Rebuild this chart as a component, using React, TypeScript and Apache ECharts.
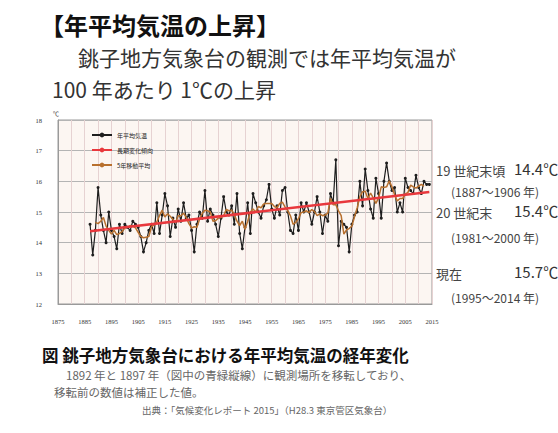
import React, { useEffect, useRef } from "react";
import * as echarts from "echarts";

const startYear = 1887;
const annualTemp = [
  14.6, 13.6, 14.4, 15.8, 14.9, 14.4, 14.0, 15.0, 14.4, 14.2,
  13.8, 14.6, 14.3, 14.6, 14.5, 14.4, 14.7, 14.6, 14.5, 14.2,
  13.7, 14.0, 14.4, 14.6, 14.3, 15.3, 14.3, 14.9, 15.6, 15.2,
  14.2, 14.8, 14.5, 15.1, 14.7, 15.3, 14.8, 14.9, 14.4, 13.7,
  14.6, 15.0, 14.8, 15.7, 14.7, 15.1, 14.9, 14.6, 14.2, 14.8,
  15.5, 15.0, 14.9, 15.2, 14.6, 15.6, 14.3, 13.8, 14.5, 15.3,
  14.3, 15.6, 15.3, 15.0, 14.8, 15.2, 15.4, 15.9, 15.1, 14.8,
  15.2, 14.9, 15.7, 15.8, 15.0, 14.4, 14.3, 14.9, 14.4, 15.3,
  15.0, 15.3, 15.0, 14.6, 15.0, 15.5, 15.0, 14.3, 14.9, 14.7,
  15.6, 15.3, 16.7, 13.9, 14.7, 14.6, 14.5, 13.7, 14.6, 14.9,
  15.0, 16.0, 15.2, 16.4, 15.7, 15.1, 14.8, 16.1, 15.6, 14.8,
  16.0, 16.6, 16.0, 15.7, 15.8, 15.0, 15.3, 15.0, 16.1, 15.8,
  15.7, 15.6, 16.2, 15.8, 15.6, 16.0, 15.9, 15.9,
];
const trendYears = [1887, 2014];
const trendTemp = [14.37, 15.65];
const seriesNames = ["年平均気温", "長期変化傾向", "5年移動平均"];

const font = "'Noto Sans CJK JP', sans-serif";

export default function App() {
  const ref = useRef<HTMLDivElement>(null);
  useEffect(() => {
    document.body.style.margin = "0";
    const chart = echarts.init(ref.current!, null, { renderer: "svg" });
    const annual = annualTemp.map((v, i) => [startYear + i, v]);
    const ma: number[][] = [];
    for (let i = 2; i < annualTemp.length - 2; i++) {
      let s = 0;
      for (let k = -2; k <= 2; k++) s += annualTemp[i + k];
      ma.push([startYear + i, +(s / 5).toFixed(2)]);
    }
    const trend = trendYears.map((y, i) => [y, trendTemp[i]]);
    const txt = (x: number, y: number, text: string, size: number, opts: any = {}) => ({
      type: "text",
      x,
      y,
      style: {
        text,
        fontSize: size,
        fontFamily: font,
        fill: opts.fill || "#333",
        fontWeight: opts.bold ? "bold" : "normal",
        textVerticalAlign: "middle",
      },
    });
    chart.setOption({
      animation: false,
      backgroundColor: "#ffffff",
      grid: {
        left: 58,
        right: 126,
        top: 120,
        bottom: 129,
        show: true,
        backgroundColor: "#fcf6f2",
        borderColor: "#9a9a9a",
        borderWidth: 1,
      },
      legend: {
        data: seriesNames,
        orient: "vertical",
        left: 86,
        top: 127,
        itemGap: 9,
        itemWidth: 20,
        itemHeight: 6,
        textStyle: { fontSize: 6, color: "#222", fontFamily: font },
      },
      xAxis: {
        type: "value",
        min: 1875,
        max: 2015,
        interval: 5,
        axisLine: { lineStyle: { color: "#9a9a9a" } },
        axisTick: { show: false },
        axisLabel: {
          fontSize: 6.5,
          color: "#333",
          margin: 14,
          fontFamily: "Liberation Serif",
          formatter: (v: number) => ((v - 1875) % 10 === 0 ? String(v) : ""),
        },
        splitLine: { show: true, lineStyle: { color: "#e6d2d2", width: 1 } },
      },
      yAxis: {
        type: "value",
        min: 12,
        max: 18,
        interval: 1,
        axisLine: { show: true, lineStyle: { color: "#9a9a9a" } },
        axisTick: { show: false },
        axisLabel: { fontSize: 6.5, color: "#333", margin: 16, fontFamily: "Liberation Serif" },
        splitLine: { lineStyle: { color: "#b4b4b4", width: 1 } },
      },
      series: [
        {
          name: seriesNames[0],
          type: "line",
          data: annual,
          color: "#1e1e1e",
          lineStyle: { width: 1.2, color: "#1e1e1e" },
          symbol: "circle",
          symbolSize: 3,
          itemStyle: { color: "#1e1e1e" },
          z: 2,
        },
        {
          name: seriesNames[1],
          type: "line",
          data: trend,
          color: "#e8383d",
          lineStyle: { width: 2.5, color: "#e8383d" },
          symbol: "none",
          z: 4,
        },
        {
          name: seriesNames[2],
          type: "line",
          data: ma,
          color: "#b8702e",
          lineStyle: { width: 1.5, color: "#b8702e" },
          symbol: "none",
          z: 3,
        },
      ],
      graphic: [
        txt(40, 24, "【年平均気温の上昇】", 24, { bold: true, fill: "#111" }),
        txt(78, 57, "銚子地方気象台の観測では年平均気温が", 21, { fill: "#333" }),
        txt(52, 89, "100 年あたり 1℃の上昇", 21, { fill: "#333" }),
        txt(53, 113, "℃", 6, { fill: "#333" }),
        txt(436, 170, "19 世紀末頃", 13, { fill: "#444" }),
        txt(514, 168, "14.4℃", 15, { fill: "#333" }),
        txt(451, 191, "(1887～1906 年)", 12, { fill: "#444" }),
        txt(436, 212, "20 世紀末", 13, { fill: "#444" }),
        txt(514, 210, "15.4℃", 15, { fill: "#333" }),
        txt(451, 237, "(1981～2000 年)", 12, { fill: "#444" }),
        txt(436, 273, "現在", 13, { fill: "#444" }),
        txt(514, 271, "15.7℃", 15, { fill: "#333" }),
        txt(451, 297, "(1995～2014 年)", 12, { fill: "#444" }),
        txt(42, 355, "図 銚子地方気象台における年平均気温の経年変化", 16.5, { bold: true, fill: "#111" }),
        txt(66, 375, "1892 年と 1897 年（図中の青緑縦線）に観測場所を移転しており、", 11.5, { fill: "#666" }),
        txt(54, 392, "移転前の数値は補正した値。", 11.5, { fill: "#666" }),
        txt(142, 410, "出典：「気候変化レポート 2015」（H28.3 東京管区気象台）", 9.5, { fill: "#666" }),
      ],
    });
    return () => chart.dispose();
  }, []);
  return <div ref={ref} style={{ width: 558, height: 433 }} />;
}
